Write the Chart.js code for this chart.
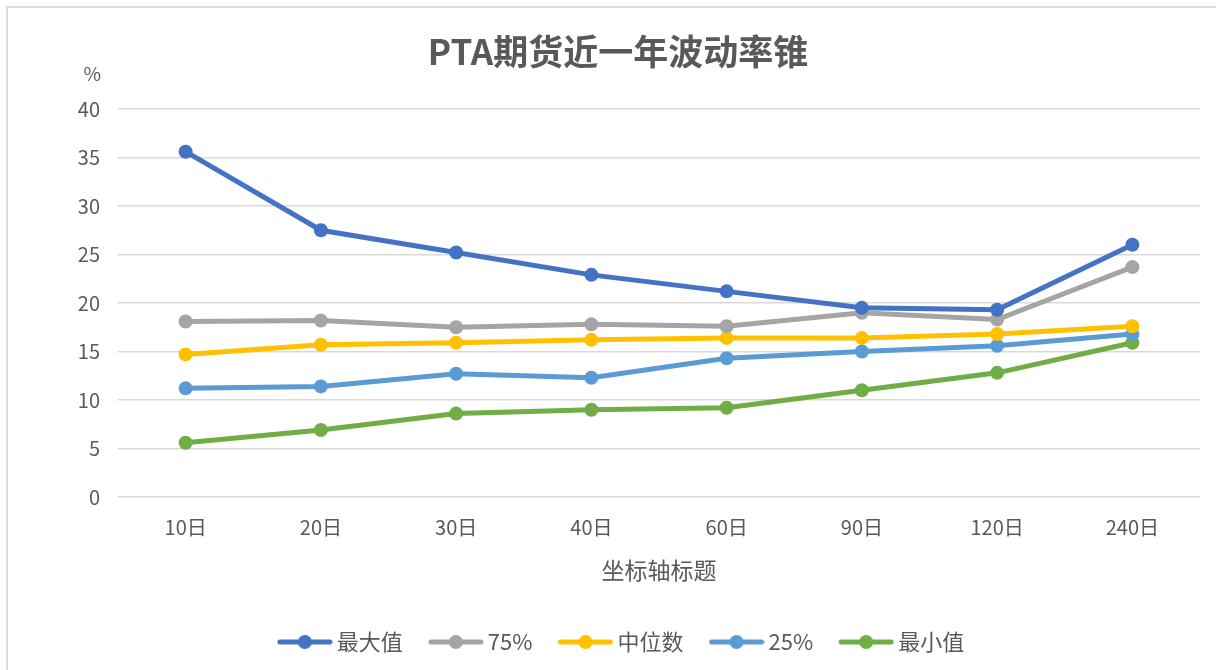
<!DOCTYPE html>
<html>
<head>
<meta charset="utf-8">
<script src="https://cdn.jsdelivr.net/npm/chart.js@4"></script>
<style>
    body { margin: 0; background: #fff; }
    .wrap { position: relative; width: 1216px; height: 670px; }
    .frame { position: absolute; left: 6px; top: 6px; right: -10px; bottom: -10px; border-left: 2px solid #dcdcdc; border-top: 2px solid #dcdcdc; }
    canvas { position: absolute; left: 0; top: 0; }
</style>
</head>
<body>
<div class="wrap">
    <div class="frame"></div>
    <canvas id="chart" width="1216" height="670"></canvas>
</div>
<script>
const categories = ['10日', '20日', '30日', '40日', '60日', '90日', '120日', '240日'];
const maxVals = [35.6, 27.5, 25.2, 22.9, 21.2, 19.5, 19.3, 26.0];
const p75Vals = [18.1, 18.2, 17.5, 17.8, 17.6, 19.0, 18.3, 23.7];
const medianVals = [14.7, 15.7, 15.9, 16.2, 16.4, 16.4, 16.8, 17.6];
const p25Vals = [11.2, 11.4, 12.7, 12.3, 14.3, 15.0, 15.6, 16.8];
const minVals = [5.6, 6.9, 8.6, 9.0, 9.2, 11.0, 12.8, 15.9];
const yTicks = [0, 5, 10, 15, 20, 25, 30, 35, 40];

const textColor = '#595959';
const fontFamily = '"Noto Sans CJK SC", "Noto Sans", sans-serif';

// legend marker: short line with a dot in the middle
function marker(color) {
    const c = document.createElement('canvas');
    c.width = 56;
    c.height = 16;
    const g = c.getContext('2d');
    g.strokeStyle = color;
    g.lineWidth = 5;
    g.lineCap = 'round';
    g.beginPath();
    g.moveTo(3, 8);
    g.lineTo(53, 8);
    g.stroke();
    g.fillStyle = color;
    g.beginPath();
    g.arc(28, 8, 7, 0, Math.PI * 2);
    g.fill();
    return c;
}

function series(label, data, color) {
    return {
        label: label,
        data: data,
        borderColor: color,
        backgroundColor: color,
        borderWidth: 5,
        pointRadius: 7,
        pointHoverRadius: 7,
        pointBorderWidth: 0,
        pointStyle: 'circle',
        tension: 0,
        legendMarker: marker(color)
    };
}

// "%" unit above the y axis
const unitLabel = {
    id: 'unitLabel',
    afterDraw(chart) {
        const ctx = chart.ctx;
        const y = chart.scales.y;
        ctx.save();
        ctx.font = '19px ' + fontFamily;
        ctx.fillStyle = textColor;
        ctx.textAlign = 'right';
        ctx.textBaseline = 'middle';
        ctx.fillText('%', y.right - 17, chart.chartArea.top - 35);
        ctx.restore();
    }
};

// title and legend sit a little right of the canvas centre in the original
const shiftBoxes = {
    id: 'shiftBoxes',
    afterLayout(chart) {
        chart.titleBlock.left += 36;
        chart.legend.left += 48;
    }
};

const chart = document.querySelector('#chart').getContext('2d');

new Chart(chart, {
    type: 'line',
    data: {
        labels: categories,
        datasets: [
            series('最大值', maxVals, '#4472C4'),
            series('75%', p75Vals, '#A5A5A5'),
            series('中位数', medianVals, '#FFC000'),
            series('25%', p25Vals, '#5B9BD5'),
            series('最小值', minVals, '#70AD47')
        ]
    },
    options: {
        responsive: false,
        animation: false,
        events: [],
        layout: { padding: { left: 0, right: 16, top: 0, bottom: 7 } },
        plugins: {
            tooltip: { enabled: false },
            title: {
                display: true,
                text: 'PTA期货近一年波动率锥',
                color: textColor,
                font: { family: fontFamily, size: 35, weight: 'bold' },
                padding: { top: 31, bottom: 36 }
            },
            legend: {
                position: 'bottom',
                labels: {
                    color: textColor,
                    font: { family: fontFamily, size: 22 },
                    usePointStyle: true,
                    pointStyleWidth: 42,
                    padding: 32,
                    generateLabels(c) {
                        return c.data.datasets.map((ds, i) => ({
                            text: ds.label,
                            pointStyle: ds.legendMarker,
                            fontColor: textColor,
                            lineWidth: 0,
                            hidden: false,
                            datasetIndex: i
                        }));
                    }
                }
            }
        },
        scales: {
            x: {
                offset: true,
                grid: { display: false },
                border: { display: false },
                ticks: {
                    color: textColor,
                    font: { family: fontFamily, size: 20 },
                    padding: 10
                },
                title: {
                    display: true,
                    text: '坐标轴标题',
                    color: textColor,
                    font: { family: fontFamily, size: 23 },
                    padding: { top: 0, bottom: 15 }
                },
                afterFit(scale) { scale.height = 102; }
            },
            y: {
                min: 0,
                max: 40,
                afterBuildTicks(scale) { scale.ticks = yTicks.map(v => ({ value: v })); },
                grid: { color: '#d9d9d9', lineWidth: 1.5, drawTicks: false },
                border: { display: false },
                ticks: {
                    color: textColor,
                    font: { family: fontFamily, size: 20 },
                    padding: 18
                },
                afterFit(scale) { scale.width = 118; }
            }
        }
    },
    plugins: [unitLabel, shiftBoxes]
});
</script>
</body>
</html>
